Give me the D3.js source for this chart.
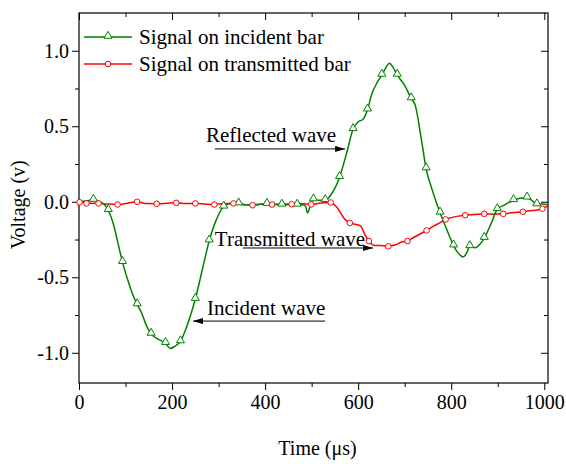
<!DOCTYPE html>
<html lang="en">
  <head>
    <meta charset="UTF-8" />
    <title>Incident / transmitted bar signals</title>
    <style>
      body { margin: 0; background: #fff; }
      svg text { font-family: "Liberation Serif", "Times New Roman", serif; fill: #000; }
    </style>
  </head>
  <body>
    <svg width="566" height="464"></svg>

    <script src="https://d3js.org/d3.v7.min.js"></script>
    <script>
      // Signal on incident bar: [time (us), voltage (V)]
      const incident = [
        [0, 0.0], [15, 0.005], [31, 0.012], [45, 0.0], [55, -0.02], [63, -0.056],
        [75, -0.16], [85, -0.29], [93.5, -0.4], [105, -0.52], [115, -0.61], [125, -0.68],
        [135, -0.74], [145, -0.82], [155, -0.875], [170, -0.91], [186, -0.936], [196, -0.972],
        [205, -0.96], [218, -0.925], [230, -0.84], [240, -0.75], [250, -0.644], [265, -0.45],
        [280, -0.257], [295, -0.12], [311, -0.033], [330, -0.01], [360, -0.02], [400, -0.015],
        [440, -0.02], [480, -0.02], [487, -0.03], [491, -0.075], [496, -0.04], [504, 0.015],
        [515, 0.01], [529, 0.01], [540, 0.04], [550, 0.09], [560, 0.163], [575, 0.32],
        [589, 0.48], [600, 0.53], [610, 0.545], [620, 0.61], [630, 0.72], [641, 0.79],
        [651, 0.84], [660, 0.89], [667, 0.918], [675, 0.89], [684, 0.84], [700, 0.77],
        [714, 0.684], [723, 0.635], [735, 0.43], [746, 0.22], [760, 0.07], [776, -0.073],
        [790, -0.18], [805, -0.29], [815, -0.34], [826, -0.365], [833, -0.34], [840, -0.295],
        [852, -0.305], [862, -0.28], [871, -0.24], [885, -0.15], [899, -0.05], [915, -0.02],
        [934, 0.01], [950, 0.025], [963, 0.027], [975, 0.005], [984, -0.018], [995, -0.015],
        [1008, -0.02]
      ];
      const incidentMarkers = [
        [31, 0.012], [63, -0.056], [93.5, -0.4], [125, -0.68], [155, -0.875], [186, -0.936],
        [218, -0.925], [250, -0.644], [280, -0.257], [311, -0.033], [343, -0.012], [404, -0.015],
        [436, -0.02], [469, -0.02], [504, 0.015], [529, 0.01], [560, 0.163], [589, 0.48],
        [620, 0.61], [651, 0.84], [684, 0.84], [714, 0.684], [746, 0.22], [776, -0.073],
        [805, -0.29], [840, -0.295], [871, -0.24], [899, -0.05], [934, 0.01], [963, 0.027],
        [984, -0.018]
      ];

      // Signal on transmitted bar
      const transmitted = [
        [0, 0.0], [20, -0.01], [42, -0.011], [60, -0.015], [83, -0.018], [100, -0.012],
        [125, 0.0], [145, -0.012], [167, -0.013], [190, -0.01], [209, -0.007], [230, -0.012],
        [250, -0.011], [270, -0.015], [291, -0.018], [310, -0.012], [332, -0.011], [350, -0.018],
        [373, -0.023], [395, -0.015], [415, -0.018], [435, -0.014], [457, -0.016], [475, -0.012],
        [499, -0.018], [520, -0.008], [541, -0.005], [555, -0.04], [570, -0.11], [582, -0.14],
        [595, -0.15], [605, -0.16], [615, -0.22], [623, -0.26], [635, -0.29], [650, -0.29],
        [665, -0.295], [680, -0.285], [695, -0.265], [706, -0.26], [720, -0.235], [735, -0.21],
        [747, -0.19], [760, -0.165], [775, -0.14], [788, -0.117], [800, -0.105], [815, -0.095],
        [830, -0.089], [850, -0.085], [871, -0.08], [890, -0.082], [912, -0.08], [930, -0.072],
        [954, -0.066], [975, -0.058], [996, -0.046], [1008, -0.025]
      ];
      const transmittedMarkers = [
        [1, -0.003], [16, -0.011], [42, -0.011], [83, -0.018], [125, 0.0], [167, -0.013],
        [209, -0.007], [250, -0.011], [291, -0.018], [332, -0.011], [373, -0.023], [415, -0.018],
        [457, -0.016], [499, -0.018], [541, -0.005], [582, -0.14], [623, -0.26], [665, -0.295],
        [706, -0.26], [747, -0.19], [788, -0.117], [830, -0.089], [871, -0.08], [912, -0.08],
        [954, -0.066], [996, -0.046]
      ];

      const xTicks = [0, 200, 400, 600, 800, 1000];
      const xMinor = [100, 300, 500, 700, 900];
      const yTicks = [-1.0, -0.5, 0.0, 0.5, 1.0];
      const yMinor = [-0.75, -0.25, 0.25, 0.75];

      const green = "#008000";
      const red = "#ff0000";
      const serif = '"Liberation Serif", "Times New Roman", serif';

      const padL = 79, padR = 548, padT = 13, padB = 383;

      const x = d3.scaleLinear().domain([0, 1008]).range([padL, padR]);
      const y = d3.scaleLinear().domain([-1.2, 1.25]).range([padB, padT]);

      const svg = d3.select("svg");

      // Axes (major + minor, mirrored inward on top/right)
      const axisStyle = (g) => {
        g.attr("font-family", serif).attr("font-size", 20);
        g.select(".domain").remove();
        g.selectAll("line").attr("stroke", "#000").attr("stroke-width", 1);
        g.selectAll("text").attr("fill", "#000");
      };
      const yFmt = (d) => d.toFixed(1);

      svg.append("g").attr("transform", `translate(0,${padB})`)
        .call(d3.axisBottom(x).tickValues(xTicks).tickSize(7).tickPadding(5).tickFormat((d) => String(d)))
        .call(axisStyle);
      svg.append("g").attr("transform", `translate(0,${padB})`)
        .call(d3.axisBottom(x).tickValues(xMinor).tickSize(4).tickFormat(""))
        .call(axisStyle);
      svg.append("g").attr("transform", `translate(${padL},0)`)
        .call(d3.axisLeft(y).tickValues(yTicks).tickSize(7).tickPadding(3).tickFormat(yFmt))
        .call(axisStyle);
      svg.append("g").attr("transform", `translate(${padL},0)`)
        .call(d3.axisLeft(y).tickValues(yMinor).tickSize(4).tickFormat(""))
        .call(axisStyle);
      svg.append("g").attr("transform", `translate(0,${padT})`)
        .call(d3.axisTop(x).tickValues(xTicks).tickSize(-7).tickFormat(""))
        .call(axisStyle);
      svg.append("g").attr("transform", `translate(0,${padT})`)
        .call(d3.axisTop(x).tickValues(xMinor).tickSize(-4).tickFormat(""))
        .call(axisStyle);
      svg.append("g").attr("transform", `translate(${padR},0)`)
        .call(d3.axisRight(y).tickValues(yTicks).tickSize(-7).tickFormat(""))
        .call(axisStyle);
      svg.append("g").attr("transform", `translate(${padR},0)`)
        .call(d3.axisRight(y).tickValues(yMinor).tickSize(-4).tickFormat(""))
        .call(axisStyle);

      // frame
      svg.append("rect")
        .attr("x", padL).attr("y", padT)
        .attr("width", padR - padL).attr("height", padB - padT)
        .attr("fill", "none").attr("stroke", "#000").attr("stroke-width", 1.2);

      // Axis titles
      svg.append("text")
        .attr("x", (padL + padR) / 2 + 4).attr("y", 455)
        .attr("text-anchor", "middle").style("font-size", "20px")
        .text("Time (\u03bcs)");
      svg.append("text")
        .attr("transform", `translate(25,${y(0) + 3}) rotate(-90)`)
        .attr("text-anchor", "middle").style("font-size", "20px")
        .text("Voltage (v)");

      // Curves
      const line = d3.line()
        .x((d) => x(d[0])).y((d) => y(d[1]))
        .curve(d3.curveMonotoneX);

      const tri = d3.symbol().type(d3.symbolTriangle).size(28);

      svg.append("path").datum(transmitted)
        .attr("d", line).attr("fill", "none").attr("stroke", red).attr("stroke-width", 1.5);
      svg.append("path").datum(incident)
        .attr("d", line).attr("fill", "none").attr("stroke", green).attr("stroke-width", 1.5);

      svg.append("g").selectAll("path").data(incidentMarkers).join("path")
        .attr("d", tri)
        .attr("transform", (d) => `translate(${x(d[0])},${y(d[1]) - 1})`)
        .attr("fill", "#fff").attr("stroke", green).attr("stroke-width", 1);
      svg.append("g").selectAll("circle").data(transmittedMarkers).join("circle")
        .attr("cx", (d) => x(d[0])).attr("cy", (d) => y(d[1])).attr("r", 2.8)
        .attr("fill", "#fff").attr("stroke", red).attr("stroke-width", 1);

      // Legend
      const legend = [
        { label: "Signal on incident bar", color: green, marker: "tri", yy: 37 },
        { label: "Signal on transmitted bar", color: red, marker: "circle", yy: 64 }
      ];
      legend.forEach((l) => {
        svg.append("line").attr("x1", 84).attr("x2", 132).attr("y1", l.yy).attr("y2", l.yy)
          .attr("stroke", l.color).attr("stroke-width", 1.5);
        if (l.marker === "tri") {
          svg.append("path").attr("d", tri).attr("transform", `translate(108,${l.yy - 1})`)
            .attr("fill", "#fff").attr("stroke", l.color);
        } else {
          svg.append("circle").attr("cx", 108).attr("cy", l.yy).attr("r", 2.8)
            .attr("fill", "#fff").attr("stroke", l.color);
        }
        svg.append("text").attr("x", 139).attr("y", l.yy + 7)
          .style("font-size", "21px").text(l.label);
      });

      // Annotations with arrows
      svg.append("defs").append("marker")
        .attr("id", "arrow").attr("viewBox", "0 0 10 6")
        .attr("refX", 10).attr("refY", 3)
        .attr("markerWidth", 10).attr("markerHeight", 6)
        .attr("markerUnits", "userSpaceOnUse").attr("orient", "auto")
        .append("path").attr("d", "M0,0L10,3L0,6Z").attr("fill", "#000");

      const notes = [
        { text: "Reflected wave", tx: 273, ty: 0.396, from: 292, to: 572, ay: 0.35 },
        { text: "Transmitted wave", tx: 292, ty: -0.293, from: 352, to: 632, ay: -0.306 },
        { text: "Incident wave", tx: 275, ty: -0.75, from: 529, to: 245, ay: -0.79 }
      ];
      notes.forEach((n) => {
        svg.append("text").attr("x", x(n.tx)).attr("y", y(n.ty))
          .style("font-size", "21px").text(n.text);
        svg.append("line")
          .attr("x1", x(n.from)).attr("x2", x(n.to))
          .attr("y1", y(n.ay)).attr("y2", y(n.ay))
          .attr("stroke", "#000").attr("stroke-width", 1)
          .attr("marker-end", "url(#arrow)");
      });
    </script>
  </body>
</html>
